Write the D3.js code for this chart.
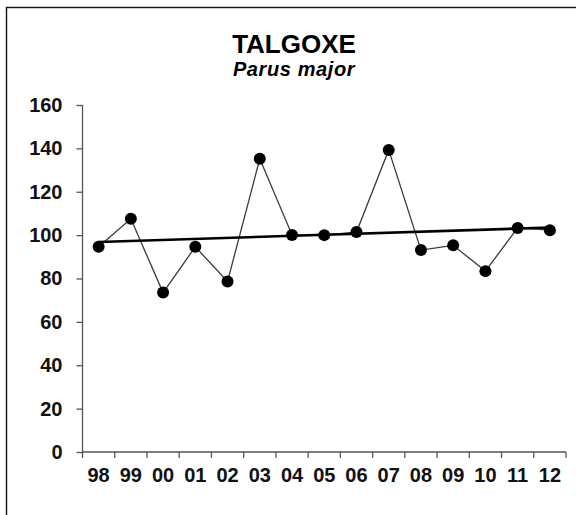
<!DOCTYPE html>
<html>
<head>
<meta charset="utf-8">
<script src="https://cdn.jsdelivr.net/npm/d3@7"></script>
<style>
  body { margin: 0; background: #fff; }
  svg { display: block; font-family: "Liberation Sans", Arial, sans-serif; }
  .axis path, .axis line { stroke: #555; stroke-width: 1.3; }
  .axis text { font-size: 20px; font-weight: bold; fill: #111; }
</style>
</head>
<body>
<div id="chart"></div>
<script>
const title = "TALGOXE"
const subtitle = "Parus major"
const years = ["98", "99", "00", "01", "02", "03", "04", "05", "06", "07", "08", "09", "10", "11", "12"]
const index = [94.6, 107.5, 73.5, 94.6, 78.6, 135.2, 100.1, 100, 101.4, 139.3, 93.1, 95.3, 83.4, 103.3, 102.3]
const yTicks = [0, 20, 40, 60, 80, 100, 120, 140, 160]

const width = 576
const height = 515
const margin = { left: 82.5, right: 10, top: 105, bottom: 63 }

const svg = d3.select("#chart")
  .append("svg")
  .attr("width", width)
  .attr("height", height)

// frame round the chart
svg.append("rect")
  .attr("x", 6.5)
  .attr("y", 7.5)
  .attr("width", width + 10)
  .attr("height", height + 10)
  .attr("fill", "none")
  .attr("stroke", "#111")
  .attr("stroke-width", 1.4)

const x = d3.scaleBand()
  .domain(years)
  .range([margin.left, 566])

const y = d3.scaleLinear()
  .domain([0, 160])
  .range([452, margin.top])

// titles
svg.append("text")
  .attr("x", 294)
  .attr("y", 53)
  .attr("text-anchor", "middle")
  .style("font-size", "26px")
  .style("font-weight", "bold")
  .text(title)

svg.append("text")
  .attr("x", 294)
  .attr("y", 76)
  .attr("text-anchor", "middle")
  .style("font-size", "20px")
  .style("font-weight", "bold")
  .style("font-style", "italic")
  .style("letter-spacing", "0.6px")
  .text(subtitle)

// y axis
svg.append("g")
  .attr("class", "axis")
  .attr("transform", "translate(" + margin.left + ",0)")
  .call(d3.axisLeft(y).tickValues(yTicks).tickSize(6).tickPadding(14).tickSizeOuter(0))
  .select(".domain").attr("d", "M0," + y(160) + "V" + y(0))

// x axis: line, ticks at category edges, labels in the middle
const xAxis = svg.append("g")
  .attr("class", "axis")
  .attr("transform", "translate(0," + y(0) + ")")
  .call(d3.axisBottom(x).tickSize(0).tickPadding(16))
xAxis.select(".domain").attr("d", "M" + x.range()[0] + ",0H" + x.range()[1])
xAxis.selectAll(".edge")
  .data(d3.range(years.length + 1))
  .enter().append("line")
  .attr("class", "edge")
  .attr("x1", i => x.range()[0] + i * x.step())
  .attr("x2", i => x.range()[0] + i * x.step())
  .attr("y1", 0)
  .attr("y2", 6)

const cx = d => x(d) + x.bandwidth() / 2

// index line
svg.append("path")
  .datum(index)
  .attr("fill", "none")
  .attr("stroke", "#3a3a3a")
  .attr("stroke-width", 1.3)
  .attr("d", d3.line().x((d, i) => cx(years[i])).y(d => y(d)))

// linear trend (least squares)
const n = index.length
const mx = (n - 1) / 2
const my = d3.mean(index)
const slope = d3.sum(index, (d, i) => (i - mx) * (d - my)) / d3.sum(index, (d, i) => (i - mx) * (i - mx))
const trend = [0, n - 1].map(i => [i, my + slope * (i - mx)])

svg.append("path")
  .datum(trend)
  .attr("fill", "none")
  .attr("stroke", "#000")
  .attr("stroke-width", 2.6)
  .attr("d", d3.line().x(d => cx(years[d[0]])).y(d => y(d[1])))

// markers
svg.append("g")
  .selectAll("circle")
  .data(index)
  .enter().append("circle")
  .attr("cx", (d, i) => cx(years[i]))
  .attr("cy", d => y(d))
  .attr("r", 6)
  .attr("fill", "#000")
</script>
</body>
</html>
